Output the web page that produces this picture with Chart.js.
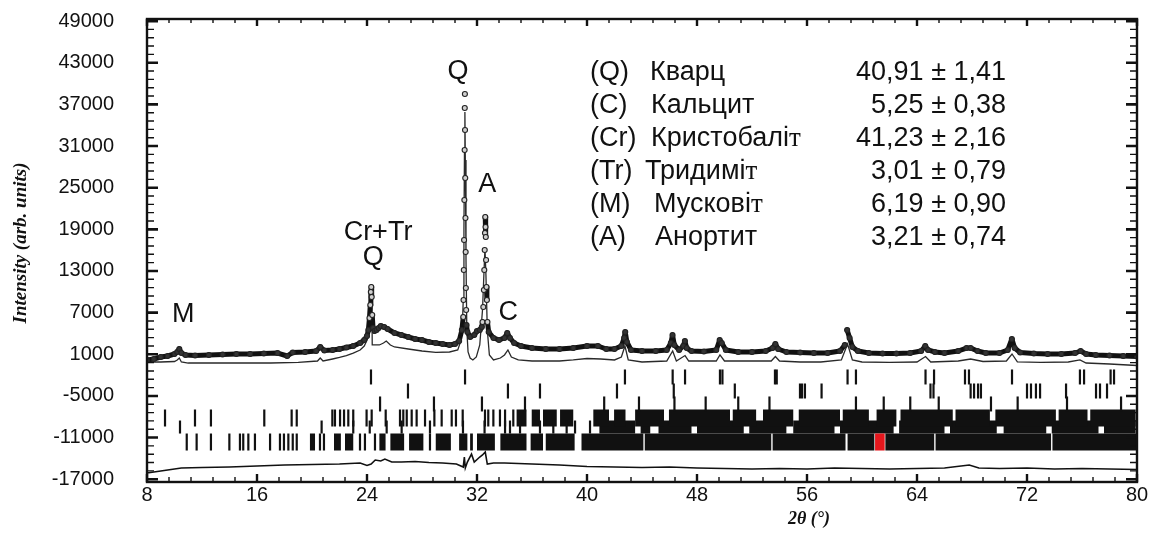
<!DOCTYPE html>
<html>
<head>
<meta charset="utf-8">
<script src="https://cdn.jsdelivr.net/npm/chart.js@4.4.1/dist/chart.umd.min.js"></script>
<style>
  html, body { margin: 0; padding: 0; background: #fff; }
  canvas { display: block; }
</style>
</head>
<body>
<canvas id="xrd" width="1156" height="539"></canvas>
<script>
// axis tick labels
const xTickLabels = [8, 16, 24, 32, 40, 48, 56, 64, 72, 80];
const yTickLabels = [-17000, -11000, -5000, 1000, 7000, 13000, 19000, 25000, 31000, 37000, 43000, 49000];

// observed profile (2theta, counts)
const obsTheta = [8.0, 8.5, 9.0, 9.5, 10.0, 10.2, 10.35, 10.5, 10.8, 11.5, 12.5, 13.5, 14.5, 15.5, 16.5, 17.5, 18.2, 18.6, 19.5, 20.3, 20.6, 20.9,
  21.5, 22.0, 22.5, 23.0, 23.5, 23.8, 24.0, 24.1, 24.18, 24.24, 24.28, 24.31, 24.34, 24.38, 24.44, 24.55, 24.7, 24.85, 25.0, 25.25, 25.5,
  26.0, 26.5, 27.0, 27.5, 28.0, 28.5, 29.0, 29.5, 30.0, 30.4, 30.7, 30.9, 31.0, 31.02, 31.04, 31.06, 31.08, 31.1, 31.11, 31.12, 31.13,
  31.145, 31.16, 31.175, 31.19, 31.21, 31.24, 31.3, 31.5, 31.8, 32.0, 32.2, 32.35, 32.4, 32.46, 32.5, 32.53, 32.56, 32.58, 32.6, 32.62,
  32.64, 32.66, 32.69, 32.72, 32.76, 32.85, 33.2, 33.6, 34.0, 34.2, 34.4, 34.7, 35.2, 36.0, 37.0, 38.0, 39.0, 40.0, 40.8, 41.4, 42.0,
  42.5, 42.7, 42.78, 42.9, 43.2, 44.0, 45.0, 45.8, 46.1, 46.22, 46.35, 46.7, 47.0, 47.12, 47.25, 47.6, 48.5, 49.4, 49.65, 49.8, 50.1,
  51.0, 52.0, 53.0, 53.5, 53.7, 53.9, 54.5, 55.5, 56.5, 57.5, 58.4, 58.75, 58.92, 59.1, 59.3, 59.7, 60.5, 61.5, 62.5, 63.5, 64.3, 64.6,
  64.8, 65.3, 66.0, 67.0, 67.6, 67.9, 68.4, 69.0, 70.0, 70.6, 70.9, 71.1, 71.5, 72.5, 73.5, 74.5, 75.5, 75.9, 76.3, 77.0, 78.0, 79.0, 80.0];
const obsCounts = [180, 320, 610, 750, 1040, 1330, 1760, 1180, 900, 820, 900, 970, 1040, 1040, 1110, 1180, 750, 1260, 1330, 1470, 2050, 1540,
  1620, 1760, 1980, 2190, 2620, 3060, 3630, 4500, 6230, 8100, 9970, 10690, 9250, 6660, 4790, 4350, 4500, 4790, 5070, 4930, 4640,
  4070, 3780, 3490, 3200, 3060, 2770, 2620, 2480, 2340, 2480, 2910, 4500, 6370, 8820, 13140, 17460, 23230, 30430, 36480, 38500, 33310,
  26390, 20630, 15730, 10550, 7380, 5220, 4210, 3490, 3780, 4350, 4500, 4930, 5650, 7810, 10260, 13140, 16020, 18470, 20780, 19340,
  17900, 14580, 10690, 8820, 5650, 4210, 3350, 3060, 3350, 4070, 3350, 2620, 2190, 1900, 1760, 1760, 1900, 2190, 2190, 1760, 1760,
  2190, 3350, 4210, 2770, 1620, 1470, 1470, 1620, 2620, 3780, 2340, 1620, 2190, 2910, 1900, 1470, 1400, 1620, 3060, 2620, 1620,
  1330, 1330, 1470, 1900, 2480, 1760, 1330, 1260, 1180, 1180, 1470, 2340, 4500, 3350, 2050, 1470, 1180, 1110, 1110, 1180, 1470, 2190,
  1620, 1330, 1180, 1470, 1900, 1900, 1470, 1180, 1180, 1620, 3200, 1900, 1260, 1110, 1040, 1040, 1180, 1470, 1040, 900, 820, 750, 680];

// calculated profile
const calcTheta = [8.0, 9.0, 10.0, 10.2, 10.35, 10.5, 11.0, 13.0, 15.0, 17.0, 19.0, 20.4, 20.6, 20.8, 21.5, 22.0, 22.5, 23.0, 23.5, 23.8,
  24.0, 24.15, 24.25, 24.31, 24.36, 24.38, 24.9, 25.2, 25.4, 25.7, 26.0, 27.0, 28.0, 29.0, 30.0, 30.6, 30.85, 30.95, 31.0, 31.05, 31.09,
  31.12, 31.15, 31.2, 31.26, 31.35, 31.5, 31.7, 31.95, 32.2, 32.4, 32.5, 32.58, 32.65, 32.75, 32.9, 33.2, 33.7, 34.0, 34.25, 34.5, 35.0,
  36.0, 38.0, 39.0, 40.0, 41.0, 42.0, 42.5, 42.76, 43.0, 44.0, 45.8, 46.23, 46.5, 47.13, 47.4, 49.4, 49.67, 50.0, 53.4, 53.7, 54.0, 55.5,
  57.0, 58.5, 58.95, 59.3, 60.0, 62.0, 64.0, 64.62, 65.0, 67.0, 67.9, 68.8, 70.5, 70.91, 71.3, 73.0, 75.0, 75.85, 76.3, 78.0, 80.0];
const calcCounts = [-110, -110, -40, 180, 460, -110, -260, -260, -260, -260, -180, 30, 460, 30, 320, 540, 820, 1180, 1620, 2190,
  3060, 5220, 7670, 9110, 8100, 2340, 2340, 2620, 2910, 2340, 2050, 1760, 1470, 1260, 1330, 1620, 3060, 5940, 8820, 18900, 30430,
  35900, 28990, 14580, 4500, 1330, 460, 180, 610, 2340, 7380, 12420, 16310, 12420, 4500, 900, 180, 460, 900, 1620, 610, 180,
  30, 30, 180, 390, 320, 180, 610, 2190, 180, -110, 30, 1470, 30, 820, 30, 30, 900, 30, 30, 680, 30, -110,
  -110, 180, 2480, 180, -110, -180, -110, 680, -110, 30, 320, -40, 30, 1040, -110, -180, -110, 180, -260, -400, -620];

// observed - calculated
const diffTheta = [8.0, 9.0, 10.0, 10.5, 12.0, 14.0, 16.0, 18.0, 20.0, 22.0, 23.5, 24.0, 24.3, 24.6, 25.0, 25.3, 25.8, 26.5, 27.5, 28.5,
  29.5, 30.5, 31.0, 31.08, 31.15, 31.3, 31.6, 31.8, 32.2, 32.4, 32.6, 32.75, 33.2, 34.0, 35.0, 36.0, 38.0, 40.0, 42.0, 44.0, 46.0, 48.0,
  50.0, 52.0, 54.0, 56.0, 58.0, 60.0, 62.0, 64.0, 66.0, 67.8, 68.5, 70.0, 72.0, 74.0, 76.0, 78.0, 80.0];
const diffCounts = [-16100, -15820, -15530, -15380, -15310, -15240, -15090, -14950, -14880, -14810, -14660, -15020, -14810, -14230, -14370,
  -14090, -14520, -14520, -14450, -14590, -14660, -14810, -15240, -13800, -15380, -14520, -13370, -14520, -13800, -13510, -13080, -14810,
  -14660, -14660, -14730, -14810, -14950, -15170, -15240, -15310, -15240, -15380, -15450, -15530, -15450, -15530, -15380, -15450, -15530,
  -15450, -15380, -14950, -15380, -15450, -15380, -15530, -15450, -15530, -15600];

// Bragg reflection positions per phase (2theta)
const quartzRefl = [24.29, 31.13, 42.76, 46.23, 47.13, 49.67, 49.85, 53.67, 53.8, 58.95, 59.56, 64.62, 65.24, 67.49, 67.78, 70.91, 75.85, 76.15, 78.08, 78.33];
const calciteRefl = [26.98, 34.25, 36.58, 42.18, 46.31, 50.75, 55.49, 55.64, 55.85, 57.06, 64.98, 65.2, 67.9, 68.15, 68.44, 68.65, 72.0, 72.29, 72.65, 72.95, 74.84, 77.02, 77.31, 77.82];
const cristobaliteRefl = [24.95, 28.87, 32.36, 35.49, 41.25, 43.78, 46.36, 48.63, 51.0, 53.27, 59.56, 61.58, 63.51, 65.58, 69.38, 71.32, 74.91, 78.84];
const tridymiteRefl = [9.31, 11.49, 12.65, 16.53, 18.52, 18.89, 21.48, 21.67, 22.04, 22.33, 22.64, 23.0, 23.97, 24.34, 25.36, 26.4, 26.64, 26.89,
  27.25, 27.61, 28.22, 28.9, 29.43, 30.16, 30.47, 30.96, 32.58, 32.82, 33.19, 33.67, 34.04, 34.64];
const muscoviteRefl = [10.4, 20.7, 23.0, 24.2, 25.43, 26.52, 28.58, 30.98, 32.55, 34.04, 34.4, 35.13, 36.58, 37.55, 38.52, 39.13, 40.22];
const anorthiteRefl = [10.89, 11.61, 12.65, 13.99, 14.76, 15.0, 15.37, 15.85, 16.95, 17.67, 17.96, 18.28, 18.6, 18.89, 20.58, 20.87, 23.49, 23.85, 24.58, 28.58];
// ranges where reflections overlap into a solid band
const tridymiteBands = [[34.88, 35.6], [35.98, 36.58], [36.8, 37.8], [38.04, 39.0], [40.46, 41.6], [41.97, 42.8], [43.5, 45.6], [45.96, 50.4],
  [50.6, 52.3], [52.8, 55.0], [55.4, 58.4], [58.6, 60.5], [61.06, 62.5], [62.8, 66.6], [66.8, 69.3], [69.7, 74.1], [74.3, 76.4], [76.6, 79.9]];
const muscoviteBands = [[40.9, 43.5], [43.9, 44.6], [45.2, 47.6], [48.0, 51.4], [51.8, 54.5], [55.0, 58.0], [58.4, 62.3], [62.7, 66.0],
  [66.4, 69.8], [70.3, 73.4], [73.8, 77.2], [77.6, 79.9]];
const anorthiteBands = [[19.85, 20.22], [21.6, 22.1], [22.4, 23.0], [24.9, 25.35], [25.7, 26.7], [27.06, 28.1], [29.0, 30.1], [30.7, 31.3],
  [31.5, 31.7], [32.0, 33.3], [33.7, 35.6], [35.9, 36.8], [37.0, 39.1], [39.6, 44.1], [44.2, 53.4], [53.5, 58.8], [58.95, 60.9],
  [61.7, 65.25], [65.35, 73.75], [73.85, 79.95]];
const anorthiteMarked = [[60.95, 61.65]];

// refined phase content, wt.%
const phaseCodes = ['(Q)', '(C)', '(Cr)', '(Tr)', '(M)', '(A)'];
const phaseNames = ['Кварц', 'Кальцит', 'Кристобаліт', 'Тридиміт', 'Мусковіт', 'Анортит'];
const phaseWt = [40.91, 5.25, 41.23, 3.01, 6.19, 3.21];
const phaseErr = [1.41, 0.38, 2.16, 0.79, 0.90, 0.74];

// ---------------------------------------------------------------
const SANS = '"Liberation Sans", Arial, sans-serif';
const SERIF = '"Liberation Serif", "Times New Roman", serif';
const INK = '#111';

const pairs = (xs, ys) => xs.map((x, i) => ({ x: x, y: ys[i] }));

// rows of reflection markers below the profile: baseline level and half height in px
const rows = [
  { refl: quartzRefl, level: -2270, half: 7.5 },
  { refl: calciteRefl, level: -4290, half: 7.5 },
  { refl: cristobaliteRefl, level: -6160, half: 7.5 },
  { refl: tridymiteRefl, level: -8180, half: 8.5, bands: tridymiteBands },
  { refl: muscoviteRefl, level: -9480, half: 6.5, bands: muscoviteBands },
  { refl: anorthiteRefl, level: -11640, half: 8.5, bands: anorthiteBands }
];

function bandData(bands, level) {
  const out = [];
  bands.forEach(b => {
    out.push({ x: b[0], y: level }, { x: b[1], y: level }, { x: b[1], y: null });
  });
  return out;
}

const datasets = [
  {
    label: 'Yobs',
    data: pairs(obsTheta, obsCounts),
    showLine: true,
    borderColor: INK,
    borderWidth: 5,
    borderJoinStyle: 'round',
    borderCapStyle: 'round',
    segment: {
      borderColor: c => Math.abs(c.p1.y - c.p0.y) > 14 ? 'rgba(0,0,0,0)' : INK
    },
    pointRadius: 2.5,
    pointBorderWidth: 1.1,
    pointBorderColor: '#222',
    pointBackgroundColor: c => (c.raw && c.raw.y > 5300) ? '#d0d0d0' : '#333'
  },
  {
    label: 'Ycalc',
    data: pairs(calcTheta, calcCounts),
    showLine: true,
    borderColor: '#2a2a2a',
    borderWidth: 1.3,
    pointRadius: 0
  },
  {
    label: 'Yobs-Ycalc',
    data: pairs(diffTheta, diffCounts),
    showLine: true,
    borderColor: INK,
    borderWidth: 1.6,
    pointRadius: 0
  }
];

rows.forEach((r, i) => {
  datasets.push({
    label: 'hkl' + i,
    data: r.refl.map(t => ({ x: t, y: r.level })),
    showLine: false,
    pointStyle: 'line',
    rotation: 90,
    pointRadius: r.half,
    pointBorderWidth: 2.2,
    pointBorderColor: INK
  });
});
rows.forEach((r, i) => {
  if (!r.bands) return;
  datasets.push({
    label: 'band' + i,
    data: bandData(r.bands, r.level),
    showLine: true,
    spanGaps: false,
    borderColor: INK,
    borderWidth: r.half * 2,
    borderCapStyle: 'butt',
    pointRadius: 0
  });
});
datasets.push({
  label: 'marked',
  data: bandData(anorthiteMarked, rows[5].level),
  showLine: true,
  spanGaps: false,
  borderColor: '#e5171d',
  borderWidth: rows[5].half * 2,
  borderCapStyle: 'butt',
  pointRadius: 0,
  order: -1
});

// peak annotations, placed in data coordinates
const peakLabels = [
  { text: 'Q', x: 30.62, y: 41700 },
  { text: 'A', x: 32.75, y: 25400 },
  { text: 'C', x: 34.28, y: 6950 },
  { text: 'Cr+Tr', x: 24.8, y: 18470 },
  { text: 'Q', x: 24.46, y: 14870 },
  { text: 'M', x: 10.64, y: 6660 }
];

const fmt = v => v.toFixed(2).replace('.', ',');

const framePlugin = {
  id: 'frameTicks',
  afterDatasetsDraw(chart) {
    const { ctx, chartArea: a, scales: { x, y } } = chart;
    ctx.save();
    ctx.strokeStyle = INK;
    // inward ticks, x every 1.6 deg, y every 1200
    for (let i = 0; i <= 45; i++) {
      const px = x.getPixelForValue(8 + i * 1.6);
      const major = i % 5 === 0;
      ctx.lineWidth = major ? 2.4 : 1.4;
      ctx.beginPath();
      ctx.moveTo(px, a.top); ctx.lineTo(px, a.top + (major ? 7 : 4));
      ctx.moveTo(px, a.bottom); ctx.lineTo(px, a.bottom - (major ? 8 : 5));
      ctx.stroke();
    }
    for (let i = 0; i <= 55; i++) {
      const py = y.getPixelForValue(-17000 + i * 1200);
      const major = i % 5 === 0;
      ctx.lineWidth = major ? 2.6 : 1.4;
      ctx.beginPath();
      ctx.moveTo(a.left, py); ctx.lineTo(a.left + (major ? 11 : 7), py);
      ctx.moveTo(a.right, py); ctx.lineTo(a.right - (major ? 11 : 7), py);
      ctx.stroke();
    }
    ctx.lineWidth = 2.4;
    ctx.strokeRect(a.left, a.top, a.right - a.left, a.bottom - a.top);
    ctx.restore();
  },
  afterDraw(chart) {
    const { ctx, scales: { x, y } } = chart;
    ctx.save();
    ctx.fillStyle = INK;
    ctx.textAlign = 'center';
    ctx.textBaseline = 'middle';
    ctx.font = '27px ' + SANS;
    peakLabels.forEach(l => ctx.fillText(l.text, x.getPixelForValue(l.x), y.getPixelForValue(l.y)));

    // phase table
    ctx.textBaseline = 'alphabetic';
    const nameX = [650, 651, 651, 645, 654, 655];
    phaseCodes.forEach((code, i) => {
      const base = 80 + i * 32.9;
      ctx.font = '27px ' + SANS;
      ctx.textAlign = 'left';
      ctx.fillText(code, 590, base);
      const name = phaseNames[i];
      if (name.endsWith('іт')) {
        const head = name.slice(0, -1);
        ctx.fillText(head, nameX[i], base);
        const w = ctx.measureText(head).width;
        ctx.font = '27px ' + SERIF;
        ctx.fillText(name.slice(-1), nameX[i] + w, base);
      } else {
        ctx.fillText(name, nameX[i], base);
      }
      ctx.font = '27px ' + SANS;
      ctx.textAlign = 'right';
      ctx.fillText(fmt(phaseWt[i]) + ' ± ' + fmt(phaseErr[i]), 1006, base);
    });

    // axis titles
    ctx.textAlign = 'center';
    ctx.textBaseline = 'middle';
    ctx.font = 'italic bold 18px ' + SERIF;
    ctx.fillText('2θ (°)', x.getPixelForValue(56) + 2, 519);
    ctx.font = 'italic bold 19px ' + SERIF;
    ctx.translate(21, 243);
    ctx.rotate(-Math.PI / 2);
    ctx.fillText('Intensity (arb. units)', 0, 0);
    ctx.restore();
  }
};

new Chart(document.getElementById('xrd'), {
  type: 'scatter',
  data: { datasets: datasets },
  options: {
    responsive: false,
    animation: false,
    events: [],
    layout: { padding: { left: 0, top: 19, right: 19, bottom: 0 } },
    plugins: { legend: { display: false }, tooltip: { enabled: false } },
    scales: {
      x: {
        type: 'linear',
        min: 8,
        max: 80,
        grid: { display: false, drawTicks: false },
        border: { display: false },
        afterBuildTicks: s => { s.ticks = xTickLabels.map(v => ({ value: v })); },
        afterFit: s => { s.height = 57; s.paddingLeft = 0; s.paddingRight = 0; },
        ticks: {
          autoSkip: false,
          maxRotation: 0,
          padding: 1,
          color: INK,
          font: { family: SANS, size: 20 },
          callback: v => String(v)
        }
      },
      y: {
        type: 'linear',
        min: -17400,
        max: 49300,
        grid: { display: false, drawTicks: false },
        border: { display: false },
        afterBuildTicks: s => { s.ticks = yTickLabels.map(v => ({ value: v })); },
        afterFit: s => { s.width = 147; s.paddingTop = 0; s.paddingBottom = 0; },
        ticks: {
          autoSkip: false,
          padding: 33,
          color: INK,
          font: { family: SANS, size: 20 },
          callback: v => String(v)
        }
      }
    }
  },
  plugins: [framePlugin]
});
</script>
</body>
</html>
